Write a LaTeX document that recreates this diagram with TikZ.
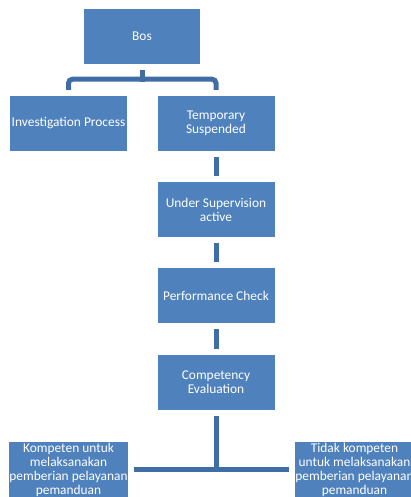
\documentclass[tikz,border=0pt]{standalone}
\usepackage{fontspec}
\setmainfont{Carlito}
\usetikzlibrary{calc}
\definecolor{boxblue}{RGB}{79,129,189}
\definecolor{linkblue}{RGB}{64,109,163}
\newcommand{\boxfont}{\fontsize{13.4pt}{14pt}\selectfont}
\tikzstyle{box}=[fill=boxblue, text=white, minimum width=117pt,
    minimum height=55pt, inner sep=0pt, align=center, font=\boxfont]
\tikzstyle{link}=[draw=linkblue, line width=5pt]
\def\blockdist{86}
\def\gap{6pt}

\begin{document}
\begin{tikzpicture}[x=1pt,y=-1pt]
    \useasboundingbox (0,0) rectangle (411,497);
    \clip (0,0) rectangle (411,497);
    \node (bos) [box, minimum width=116pt] at (142,36.5) {Bos};
    \path (bos)+(-73.5,87) node (inv) [box] {Investigation Process};
    \path (bos)+(74,87) node (temp) [box] {Temporary\\Suspended};
    \path (temp)+(0,\blockdist) node (under) [box] {Under Supervision\\active};
    \path (under)+(0,\blockdist) node (perf) [box] {Performance Check};
    \path (perf)+(0,\blockdist+1) node (comp) [box] {Competency\\Evaluation};
    \path (comp)+(-147.5,87) node (yes) [box]
        {Kompeten untuk\\melaksanakan\\pemberian pelayanan\\pemanduan};
    \path (comp)+(138.5,87) node (no) [box]
        {Tidak kompeten\\untuk melaksanakan\\pemberian pelayanan\\pemanduan};
    % branch below Bos
    \path (bos.south)+(0,15) coordinate (split);
    \path [link] ([yshift=-\gap]bos.south) -- ([yshift=-2.5pt]split);
    \path [link, rounded corners=4pt] ([yshift=\gap]inv.north) |- (split)
        -| ([yshift=\gap]temp.north);
    % chain
    \path [link] ([yshift=-\gap]temp.south) -- ([yshift=\gap]under.north);
    \path [link] ([yshift=-\gap]under.south) -- ([yshift=\gap]perf.north);
    \path [link] ([yshift=-\gap]perf.south) -- ([yshift=\gap]comp.north);
    % result split
    \path [link] ([xshift=\gap]yes.east) -- ([xshift=-\gap]no.west);
    \path [link] ([yshift=-\gap]comp.south) -- ($(comp.south |- yes.east)+(0,2.5)$);
\end{tikzpicture}
\end{document}
